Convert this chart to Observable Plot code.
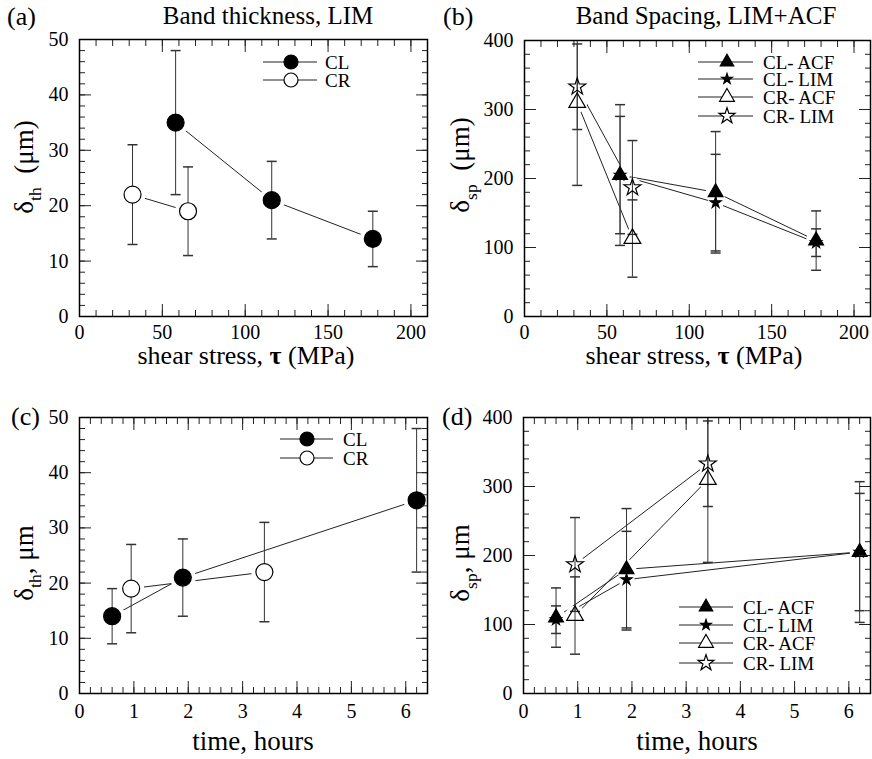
<!DOCTYPE html>
<html><head><meta charset="utf-8">
<script src="https://cdn.jsdelivr.net/npm/d3@7"></script>
<script src="https://cdn.jsdelivr.net/npm/@observablehq/plot@0.6"></script>
<style>
body{margin:0;background:#fff;}
#wrap{position:relative;width:872px;height:759px;font-family:"Liberation Serif",serif;}
.panel{position:absolute;width:436px;}
.panel svg{overflow:visible;}
</style></head><body><div id="wrap"></div>
<script>
// ---- data ----
// CL samples: shear stress and the matching time at each stress
const tauCL = [58, 116, 177];
const tauCR = [32, 65.5];
const timeCL = [6.2, 1.9, 0.6];
const timeCR = [3.4, 0.95];
const thickCL = [35, 21, 14];
const thickCLErr = [13, 7, 5];
const thickCR = [22, 19];
const thickCRErr = [9, 8];
const spCLacf = [205, 180, 110];
const spCLacfErr = [102, 88, 43];
const spCLlim = [205, 165, 107];
const spCLlimErr = [85, 70, 20];
const spCRacf = [310, 113];
const spCRacfErr = [120, 56];
const spCRlim = [333, 187];
const spCRlimErr = [62, 68];
const stressTicks = [0, 50, 100, 150, 200];
const timeTicks = [0, 1, 2, 3, 4, 5, 6];
const thickTicks = [0, 10, 20, 30, 40, 50];
const spTicks = [0, 100, 200, 300, 400];
const stressMinor = d3.range(0, 211, 10);
const timeMinor = d3.range(0, 32).map(i => +(i * 0.2).toFixed(1));
const thickMinor = d3.range(0, 51, 2);
const spMinor = d3.range(0, 401, 20);

function mk(xs, ys, es) { return xs.map((x, i) => ({x, y: ys[i], lo: ys[i] - es[i], hi: ys[i] + es[i]})); }
const capSymbol = {draw(ctx) { ctx.moveTo(-5, 0); ctx.lineTo(5, 0); }};

function addText(svg, {x, y, parts, size, anchor = "middle", rotate = 0}) {
  const t = d3.select(svg).append("text")
    .attr("transform", `translate(${x},${y}) rotate(${rotate})`)
    .attr("text-anchor", anchor).attr("font-family", "Liberation Serif")
    .attr("font-size", size).attr("fill", "#000");
  let shifted = false;
  for (const p of parts) {
    const ts = t.append("tspan").text(p.t);
    if (p.sub) { ts.attr("font-size", size * 0.65).attr("dy", size * 0.28); shifted = true; }
    else if (shifted) { ts.attr("dy", -size * 0.28); shifted = false; }
    if (p.bold) ts.attr("font-weight", "bold");
  }
}

function addLegend(svg, items, {x0, x1, xm, xt, ys, size}) {
  const g = d3.select(svg).append("g");
  items.forEach((s, i) => {
    const y = ys[i];
    g.append("line").attr("x1", x0).attr("x2", x1).attr("y1", y).attr("y2", y).attr("stroke", "#222").attr("stroke-width", 1);
    const sym = {circle: d3.symbolCircle, triangle: d3.symbolTriangle, star: d3.symbolStar}[s.symbol];
    g.append("path").attr("transform", `translate(${xm},${y})`)
      .attr("d", d3.symbol(sym, Math.PI * s.lr * s.lr)())
      .attr("fill", s.fill === "none" ? "white" : s.fill).attr("stroke", "#000").attr("stroke-width", 1.2);
    g.append("text").attr("x", xt).attr("y", y).attr("dy", "0.35em").attr("text-anchor", "start")
      .attr("font-family", "Liberation Serif")
      .attr("font-size", size).attr("fill", "#000").text(s.label);
  });
}

function makePanel(cfg) {
  const marks = [];
  cfg.series.forEach(s => marks.push(Plot.line(s.data, {x: "x", y: "y", sort: "x", stroke: "#222", strokeWidth: 1})));
  cfg.series.forEach(s => marks.push(Plot.dot(s.data, {x: "x", y: "y", r: s.halo, fill: "white", stroke: "none"})));
  cfg.series.forEach(s => {
    marks.push(Plot.ruleX(s.data, {x: "x", y1: "lo", y2: "hi", stroke: "#333", strokeWidth: 1, clip: true}));
    marks.push(Plot.dot(s.data, {x: "x", y: "lo", symbol: capSymbol, stroke: "#333", fill: "none", clip: true}));
    marks.push(Plot.dot(s.data, {x: "x", y: "hi", symbol: capSymbol, stroke: "#333", fill: "none", clip: true}));
  });
  cfg.series.forEach(s => marks.push(Plot.dot(s.data, {x: "x", y: "y", r: s.r, symbol: s.symbol, fill: s.fill, stroke: "#000", strokeWidth: 1.2})));
  marks.push(Plot.axisX({ticks: cfg.xMajor, tickSize: 0, tickPadding: cfg.xPad, label: null, fontSize: 20, tickFormat: d => String(d)}));
  marks.push(Plot.axisY({ticks: cfg.yMajor, tickSize: 0, tickPadding: 11, label: null, fontSize: 20, tickFormat: d => String(d)}));
  for (const a of ["bottom", "top"]) {
    marks.push(Plot.axisX({anchor: a, ticks: cfg.xMajor, tickSize: -12, fill: "none", label: null, stroke: "#222"}));
    marks.push(Plot.axisX({anchor: a, ticks: cfg.xMinor, tickSize: -6, fill: "none", label: null, stroke: "#222"}));
  }
  for (const a of ["left", "right"]) {
    marks.push(Plot.axisY({anchor: a, ticks: cfg.yMajor, tickSize: -12, fill: "none", label: null, stroke: "#222"}));
    marks.push(Plot.axisY({anchor: a, ticks: cfg.yMinor, tickSize: -6, fill: "none", label: null, stroke: "#222"}));
  }
  marks.push(Plot.frame({stroke: "#000", strokeWidth: 1.5}));
  const svg = Plot.plot({
    width: 436, height: cfg.height,
    marginLeft: cfg.m[0], marginRight: cfg.m[1], marginTop: cfg.m[2], marginBottom: cfg.m[3],
    x: {domain: cfg.xDomain}, y: {domain: cfg.yDomain},
    style: {fontFamily: "Liberation Serif", fontSize: "20px", color: "#000", background: "transparent"},
    marks
  });
  const div = document.createElement("div");
  div.className = "panel";
  div.style.left = cfg.left + "px"; div.style.top = cfg.top + "px";
  div.appendChild(svg);
  document.getElementById("wrap").appendChild(div);
  return svg;
}

const thickSeries = (xCL, xCR) => [
  {label: "CL", data: mk(xCL, thickCL, thickCLErr), symbol: "circle", r: 8.5, lr: 7, fill: "#000", halo: 13},
  {label: "CR", data: mk(xCR, thickCR, thickCRErr), symbol: "circle", r: 8.5, lr: 7, fill: "white", halo: 13}
];
const spSeries = (xCL, xCR) => [
  {label: "CL- ACF", data: mk(xCL, spCLacf, spCLacfErr), symbol: "triangle", r: 5.5, lr: 5, fill: "#000", halo: 10},
  {label: "CL- LIM", data: mk(xCL, spCLlim, spCLlimErr), symbol: "star", r: 3.5, lr: 3.3, fill: "#000", halo: 8},
  {label: "CR- ACF", data: mk(xCR, spCRacf, spCRacfErr), symbol: "triangle", r: 6.2, lr: 5.5, fill: "none", halo: 10},
  {label: "CR- LIM", data: mk(xCR, spCRlim, spCRlimErr), symbol: "star", r: 5.3, lr: 5, fill: "none", halo: 10}
];

// (a)
const sa = thickSeries(tauCL, tauCR);
const A = makePanel({left: 0, top: 0, height: 380, m: [79, 9, 39, 64], xDomain: [0, 210], yDomain: [0, 50],
  xMajor: stressTicks, xMinor: stressMinor, yMajor: thickTicks, yMinor: thickMinor, xPad: 8, series: sa});
addText(A, {x: 7, y: 25, parts: [{t: "(a)"}], size: 26, anchor: "start"});
addText(A, {x: 268, y: 24, parts: [{t: "Band thickness, LIM"}], size: 25});
addText(A, {x: 246, y: 364, parts: [{t: "shear stress, "}, {t: "τ", bold: true}, {t: " (MPa)"}], size: 26});
addText(A, {x: 33, y: 167, rotate: -90, parts: [{t: "δ"}, {t: "th", sub: true}, {t: "  (μm)"}], size: 27});
addLegend(A, sa, {x0: 263, x1: 317, xm: 291, xt: 325, ys: [62, 80], size: 19});

// (b)
const sb = spSeries(tauCL, tauCR);
const B = makePanel({left: 436, top: 0, height: 380, m: [88, 2, 40, 64], xDomain: [0, 210], yDomain: [0, 400],
  xMajor: stressTicks, xMinor: stressMinor, yMajor: spTicks, yMinor: spMinor, xPad: 8, series: sb});
addText(B, {x: 7, y: 25, parts: [{t: "(b)"}], size: 26, anchor: "start"});
addText(B, {x: 270, y: 24, parts: [{t: "Band Spacing, LIM+ACF"}], size: 25});
addText(B, {x: 258, y: 364, parts: [{t: "shear stress, "}, {t: "τ", bold: true}, {t: " (MPa)"}], size: 26});
addText(B, {x: 33, y: 165, rotate: -90, parts: [{t: "δ"}, {t: "sp", sub: true}, {t: "  (μm)"}], size: 27});
addLegend(B, sb, {x0: 262, x1: 317, xm: 291, xt: 327, ys: [62, 79, 97, 116], size: 19});

// (c)
const sc = thickSeries(timeCL, timeCR);
const C = makePanel({left: 0, top: 380, height: 379, m: [79, 9, 37, 66], xDomain: [0, 6.4], yDomain: [0, 50],
  xMajor: timeTicks, xMinor: timeMinor, yMajor: thickTicks, yMinor: thickMinor, xPad: 10, series: sc});
addText(C, {x: 11, y: 45, parts: [{t: "(c)"}], size: 26, anchor: "start"});
addText(C, {x: 253, y: 370, parts: [{t: "time, hours"}], size: 27});
addText(C, {x: 33, y: 183, rotate: -90, parts: [{t: "δ"}, {t: "th", sub: true}, {t: ", μm"}], size: 27});
addLegend(C, sc, {x0: 280, x1: 333, xm: 307, xt: 343, ys: [59, 78], size: 19});

// (d)
const sd = spSeries(timeCL, timeCR);
const D = makePanel({left: 436, top: 380, height: 379, m: [87, 2, 37, 66], xDomain: [0, 6.4], yDomain: [0, 400],
  xMajor: timeTicks, xMinor: timeMinor, yMajor: spTicks, yMinor: spMinor, xPad: 10, series: sd});
addText(D, {x: 6, y: 45, parts: [{t: "(d)"}], size: 26, anchor: "start"});
addText(D, {x: 261, y: 370, parts: [{t: "time, hours"}], size: 27});
addText(D, {x: 33, y: 183, rotate: -90, parts: [{t: "δ"}, {t: "sp", sub: true}, {t: ", μm"}], size: 27});
addLegend(D, sd, {x0: 243, x1: 297, xm: 270, xt: 307, ys: [227, 245, 263, 283], size: 19});
</script></body></html>
